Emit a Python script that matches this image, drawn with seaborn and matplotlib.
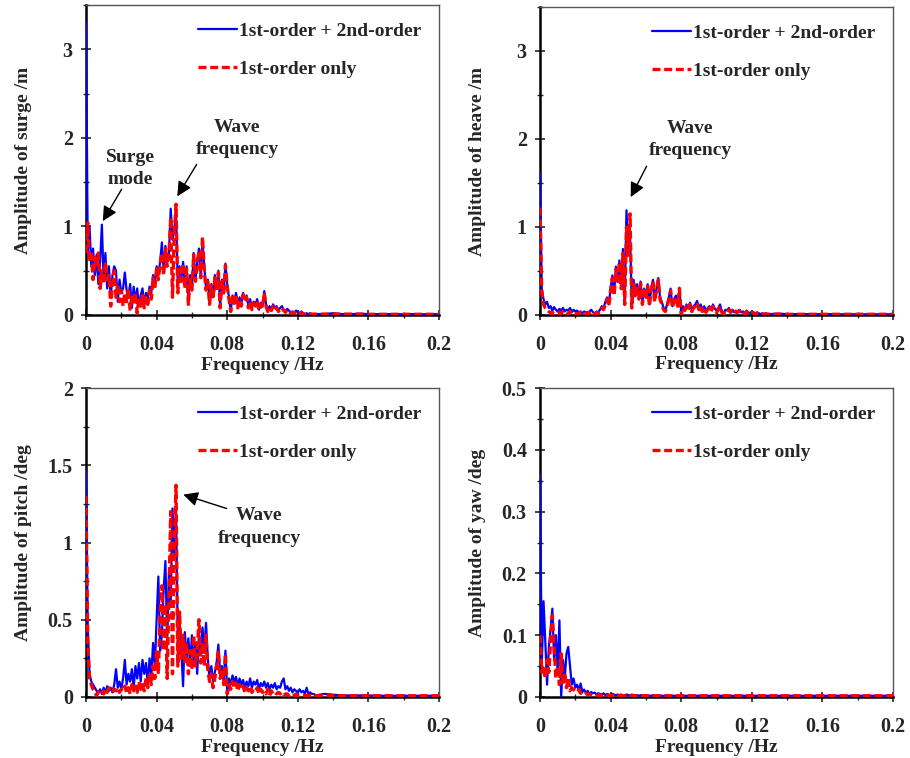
import numpy as np
import pandas as pd
import matplotlib
matplotlib.use("Agg")
import matplotlib.pyplot as plt
import seaborn as sns
from matplotlib.ticker import MultipleLocator

# ---------------- data ----------------
freq_main = [round(i * 0.001, 3) for i in range(130)]
freq_tail = [0.130, 0.135, 0.140, 0.145, 0.150, 0.155, 0.160, 0.165, 0.170,
             0.175, 0.180, 0.185, 0.190, 0.195, 0.200]
freq = freq_main + freq_tail

surge_both = [
    3.30, 0.72, 1.00, 0.55, 0.75, 0.45, 0.68, 0.35, 0.60, 1.02,
    0.40, 0.70, 0.30, 0.55, 0.20, 0.45, 0.55, 0.50, 0.15, 0.40,
    0.25, 0.30, 0.48, 0.28, 0.20, 0.35, 0.08, 0.32, 0.15, 0.30,
    0.10, 0.22, 0.30, 0.12, 0.25, 0.18, 0.32, 0.25, 0.45, 0.35,
    0.55, 0.45, 0.60, 0.82, 0.50, 0.78, 0.60, 0.70, 1.20, 0.85,
    0.95, 1.22, 0.30, 0.55, 0.40, 0.60, 0.35, 0.55, 0.15, 0.45,
    0.30, 0.70, 0.40, 0.60, 0.75, 0.45, 0.85, 0.55, 0.30, 0.40,
    0.15, 0.35, 0.20, 0.45, 0.30, 0.50, 0.10, 0.40, 0.25, 0.58,
    0.35, 0.20, 0.05, 0.22, 0.15, 0.25, 0.10, 0.20, 0.12, 0.25,
    0.18, 0.22, 0.10, 0.18, 0.08, 0.15, 0.12, 0.18, 0.06, 0.14,
    0.10, 0.27, 0.12, 0.05, 0.10, 0.06, 0.12, 0.08, 0.10, 0.05,
    0.08, 0.10, 0.06, 0.04, 0.07, 0.05, 0.03, 0.04, 0.02, 0.05,
    0.03, 0.02, 0.04, 0.02, 0.01, 0.02, 0.01, 0.02, 0.01, 0.01,
    0.01, 0.01, 0.02, 0.01, 0.01, 0.015, 0.01, 0.01, 0.01, 0.01, 0.008, 0.01, 0.008, 0.01, 0.008]
surge_first = [
    0.70, 1.04, 0.60, 0.72, 0.40, 0.65, 0.55, 0.70, 0.30, 0.50,
    0.35, 0.60, 0.40, 0.45, 0.10, 0.35, 0.50, 0.20, 0.35, 0.15,
    0.28, 0.10, 0.25, 0.15, 0.30, 0.05, 0.22, 0.12, 0.25, 0.02,
    0.20, 0.10, 0.22, 0.08, 0.20, 0.12, 0.28, 0.18, 0.42, 0.30,
    0.52, 0.40, 0.58, 0.70, 0.45, 0.75, 0.55, 0.68, 1.10, 0.20,
    0.90, 1.25, 0.25, 0.52, 0.38, 0.58, 0.30, 0.52, 0.12, 0.42,
    0.28, 0.68, 0.38, 0.58, 0.72, 0.42, 0.88, 0.50, 0.28, 0.38,
    0.12, 0.33, 0.18, 0.42, 0.28, 0.48, 0.08, 0.38, 0.22, 0.56,
    0.32, 0.18, 0.04, 0.20, 0.13, 0.23, 0.08, 0.18, 0.10, 0.23,
    0.16, 0.20, 0.08, 0.16, 0.06, 0.13, 0.10, 0.16, 0.05, 0.12,
    0.08, 0.25, 0.10, 0.04, 0.08, 0.05, 0.10, 0.06, 0.08, 0.04,
    0.06, 0.08, 0.05, 0.03, 0.06, 0.04, 0.02, 0.03, 0.02, 0.04,
    0.02, 0.02, 0.03, 0.01, 0.01, 0.02, 0.01, 0.01, 0.01, 0.01,
    0.01, 0.01, 0.01, 0.01, 0.01, 0.01, 0.008, 0.008, 0.008, 0.008, 0.008, 0.008, 0.008, 0.008, 0.008]

heave_both = [
    1.62, 0.30, 0.18, 0.12, 0.15, 0.08, 0.10, 0.05, 0.09, 0.06,
    0.04, 0.07, 0.05, 0.08, 0.04, 0.06, 0.05, 0.08, 0.03, 0.06,
    0.04, 0.05, 0.03, 0.04, 0.02, 0.04, 0.03, 0.02, 0.04, 0.06,
    0.03, 0.02, 0.04, 0.03, 0.06, 0.10, 0.08, 0.15, 0.20, 0.12,
    0.30, 0.45, 0.25, 0.55, 0.40, 0.62, 0.35, 0.75, 0.15, 1.19,
    0.70, 0.95, 0.10, 0.40, 0.25, 0.35, 0.20, 0.38, 0.15, 0.30,
    0.22, 0.35, 0.12, 0.30, 0.40, 0.18, 0.30, 0.42, 0.20, 0.15,
    0.08, 0.05, 0.12, 0.20, 0.30, 0.10, 0.18, 0.22, 0.12, 0.31,
    0.02, 0.10, 0.06, 0.12, 0.08, 0.14, 0.05, 0.10, 0.12, 0.16,
    0.08, 0.12, 0.06, 0.10, 0.05, 0.08, 0.10, 0.06, 0.12, 0.07,
    0.05, 0.08, 0.12, 0.04, 0.02, 0.06, 0.05, 0.08, 0.04, 0.06,
    0.03, 0.05, 0.04, 0.06, 0.03, 0.04, 0.02, 0.05, 0.03, 0.02,
    0.04, 0.03, 0.02, 0.03, 0.02, 0.01, 0.02, 0.01, 0.02, 0.01,
    0.01, 0.015, 0.01, 0.01, 0.01, 0.01, 0.008, 0.01, 0.008, 0.008, 0.008, 0.008, 0.008, 0.008, 0.008]
heave_first = [
    1.22, 0.25, 0.12, 0.08, 0.06, 0.04, 0.02, 0.03, 0.01, 0.02,
    0.01, 0.03, 0.02, 0.04, 0.02, 0.03, 0.01, 0.04, 0.02, 0.03,
    0.01, 0.02, 0.01, 0.03, 0.01, 0.02, 0.01, 0.03, 0.02, 0.04,
    0.02, 0.01, 0.03, 0.02, 0.05, 0.08, 0.06, 0.12, 0.18, 0.10,
    0.28, 0.42, 0.22, 0.52, 0.38, 0.60, 0.30, 0.70, 0.12, 1.00,
    0.65, 1.15, 0.08, 0.38, 0.22, 0.33, 0.18, 0.36, 0.12, 0.28,
    0.20, 0.33, 0.10, 0.28, 0.38, 0.15, 0.28, 0.40, 0.18, 0.12,
    0.06, 0.04, 0.10, 0.18, 0.28, 0.08, 0.16, 0.20, 0.10, 0.30,
    0.00, 0.08, 0.05, 0.10, 0.06, 0.12, 0.04, 0.08, 0.10, 0.14,
    0.06, 0.10, 0.04, 0.08, 0.03, 0.06, 0.08, 0.04, 0.10, 0.05,
    0.03, 0.06, 0.10, 0.03, 0.01, 0.05, 0.04, 0.06, 0.03, 0.05,
    0.02, 0.04, 0.03, 0.05, 0.02, 0.03, 0.01, 0.04, 0.02, 0.01,
    0.03, 0.02, 0.01, 0.02, 0.01, 0.01, 0.01, 0.01, 0.01, 0.01,
    0.01, 0.01, 0.008, 0.008, 0.008, 0.008, 0.008, 0.008, 0.008, 0.008, 0.008, 0.008, 0.008, 0.008, 0.008]

pitch_both = [
    1.46, 0.45, 0.15, 0.10, 0.08, 0.06, 0.04, 0.03, 0.05, 0.02,
    0.06, 0.03, 0.07, 0.04, 0.06, 0.03, 0.08, 0.18, 0.06, 0.10,
    0.05, 0.12, 0.24, 0.08, 0.15, 0.10, 0.18, 0.06, 0.20, 0.12,
    0.22, 0.10, 0.24, 0.15, 0.22, 0.08, 0.25, 0.14, 0.35, 0.20,
    0.50, 0.78, 0.30, 0.40, 0.70, 0.88, 0.35, 0.80, 0.60, 1.22,
    0.90, 1.25, 0.35, 0.50, 0.30, 0.07, 0.42, 0.25, 0.38, 0.20,
    0.40, 0.22, 0.35, 0.15, 0.42, 0.28, 0.45, 0.30, 0.48, 0.25,
    0.12, 0.20, 0.10, 0.16, 0.22, 0.34, 0.15, 0.20, 0.10, 0.30,
    0.03, 0.12, 0.08, 0.14, 0.10, 0.13, 0.07, 0.12, 0.08, 0.11,
    0.06, 0.10, 0.07, 0.12, 0.06, 0.10, 0.08, 0.11, 0.05, 0.09,
    0.07, 0.10, 0.06, 0.09, 0.05, 0.08, 0.06, 0.09, 0.05, 0.07,
    0.06, 0.10, 0.12, 0.05, 0.07, 0.04, 0.06, 0.03, 0.05, 0.04,
    0.03, 0.05, 0.03, 0.04, 0.02, 0.06, 0.02, 0.03, 0.02, 0.02,
    0.01, 0.02, 0.015, 0.01, 0.01, 0.01, 0.01, 0.008, 0.008, 0.008, 0.008, 0.008, 0.008, 0.008, 0.008]
pitch_first = [
    1.30, 0.35, 0.12, 0.08, 0.05, 0.03, 0.01, 0.03, 0.05, 0.04,
    0.02, 0.05, 0.03, 0.06, 0.04, 0.03, 0.05, 0.04, 0.06, 0.03,
    0.05, 0.04, 0.07, 0.03, 0.06, 0.02, 0.08, 0.04, 0.07, 0.03,
    0.10, 0.05, 0.08, 0.04, 0.12, 0.06, 0.15, 0.08, 0.20, 0.12,
    0.30, 0.15, 0.55, 0.72, 0.30, 0.60, 0.12, 0.65, 1.20, 0.15,
    0.95, 1.37, 0.20, 0.55, 0.25, 0.40, 0.22, 0.35, 0.15, 0.30,
    0.18, 0.40, 0.20, 0.30, 0.50, 0.22, 0.35, 0.20, 0.40, 0.18,
    0.10, 0.15, 0.06, 0.12, 0.20, 0.30, 0.12, 0.18, 0.08, 0.28,
    0.02, 0.08, 0.05, 0.10, 0.06, 0.09, 0.04, 0.08, 0.05, 0.07,
    0.03, 0.06, 0.04, 0.07, 0.03, 0.05, 0.04, 0.06, 0.02, 0.05,
    0.03, 0.04, 0.02, 0.05, 0.01, 0.04, 0.02, 0.03, 0.02, 0.03,
    0.02, 0.03, 0.01, 0.02, 0.02, 0.01, 0.02, 0.01, 0.01, 0.02,
    0.01, 0.01, 0.01, 0.01, 0.01, 0.01, 0.01, 0.01, 0.01, 0.01,
    0.008, 0.008, 0.008, 0.008, 0.008, 0.008, 0.008, 0.008, 0.008, 0.008, 0.008, 0.008, 0.008, 0.008, 0.008]

yaw_both = [
    0.36, 0.05, 0.155, 0.09, 0.02, 0.08, 0.11, 0.143, 0.06, 0.10,
    0.04, 0.124, 0.00, 0.06, 0.03, 0.07, 0.081, 0.05, 0.02, 0.03,
    0.015, 0.02, 0.01, 0.022, 0.008, 0.012, 0.006, 0.010, 0.005, 0.008,
    0.006, 0.007, 0.004, 0.006, 0.005, 0.004, 0.006, 0.003, 0.005, 0.004,
    0.003, 0.005, 0.004, 0.003, 0.004, 0.003, 0.004, 0.002, 0.003, 0.004,
    0.003, 0.002, 0.004, 0.003, 0.002, 0.003, 0.002, 0.003, 0.002, 0.003,
    0.002, 0.003, 0.002, 0.002, 0.003, 0.002, 0.002, 0.003, 0.002, 0.002,
    0.002, 0.002, 0.003, 0.002, 0.002, 0.002, 0.002, 0.002, 0.002, 0.002,
    0.002, 0.002, 0.002, 0.002, 0.002, 0.002, 0.002, 0.002, 0.002, 0.002,
    0.002, 0.002, 0.002, 0.002, 0.002, 0.002, 0.002, 0.002, 0.002, 0.002,
    0.002, 0.002, 0.002, 0.002, 0.002, 0.002, 0.002, 0.002, 0.002, 0.002,
    0.002, 0.002, 0.002, 0.002, 0.002, 0.002, 0.002, 0.002, 0.002, 0.002,
    0.002, 0.002, 0.002, 0.002, 0.002, 0.002, 0.002, 0.002, 0.002, 0.002,
    0.002, 0.002, 0.002, 0.002, 0.002, 0.002, 0.002, 0.002, 0.002, 0.002, 0.002, 0.002, 0.002, 0.002, 0.002]
yaw_first = [
    0.10, 0.04, 0.05, 0.03, 0.06, 0.04, 0.09, 0.132, 0.08, 0.03,
    0.05, 0.02, 0.07, 0.02, 0.04, 0.015, 0.03, 0.010, 0.015, 0.012,
    0.010, 0.008, 0.012, 0.006, 0.008, 0.005, 0.006, 0.004, 0.005, 0.004,
    0.003, 0.004, 0.003, 0.003, 0.004, 0.002, 0.003, 0.002, 0.003, 0.002,
    0.002, 0.003, 0.002, 0.002, 0.002, 0.002, 0.002, 0.002, 0.002, 0.002,
    0.002, 0.002, 0.002, 0.002, 0.002, 0.002, 0.002, 0.002, 0.002, 0.002,
    0.002, 0.002, 0.002, 0.002, 0.002, 0.002, 0.002, 0.002, 0.002, 0.002,
    0.002, 0.002, 0.002, 0.002, 0.002, 0.002, 0.002, 0.002, 0.002, 0.002,
    0.002, 0.002, 0.002, 0.002, 0.002, 0.002, 0.002, 0.002, 0.002, 0.002,
    0.002, 0.002, 0.002, 0.002, 0.002, 0.002, 0.002, 0.002, 0.002, 0.002,
    0.002, 0.002, 0.002, 0.002, 0.002, 0.002, 0.002, 0.002, 0.002, 0.002,
    0.002, 0.002, 0.002, 0.002, 0.002, 0.002, 0.002, 0.002, 0.002, 0.002,
    0.002, 0.002, 0.002, 0.002, 0.002, 0.002, 0.002, 0.002, 0.002, 0.002,
    0.002, 0.002, 0.002, 0.002, 0.002, 0.002, 0.002, 0.002, 0.002, 0.002, 0.002, 0.002, 0.002, 0.002, 0.002]

labels = ["1st-order + 2nd-order", "1st-order only"]
ylabels = ["Amplitude of surge /m", "Amplitude of heave /m",
           "Amplitude of pitch /deg", "Amplitude of yaw /deg"]
xlabel = "Frequency /Hz"
xticks = [0, 0.04, 0.08, 0.12, 0.16, 0.2]
xticklabels = ["0", "0.04", "0.08", "0.12", "0.16", "0.2"]

# ---------------- style ----------------
sns.set_style("ticks")
plt.rcParams["font.family"] = ["Liberation Serif", "DejaVu Serif"]
plt.rcParams["font.weight"] = "bold"
plt.rcParams["axes.labelweight"] = "bold"
FS_TICK = 14.5
FS_LAB = 14
FS_LEG = 14

fig = plt.figure(figsize=(9.10, 7.58), dpi=100)
W, H = 910, 758
def box(l, t, r, b):
    return [l / W, 1 - b / H, (r - l) / W, (b - t) / H]

ax_pos = [box(86, 5, 439, 315), box(540, 7, 893, 315),
          box(86, 388, 439, 697), box(540, 388, 893, 697)]
series = [(surge_both, surge_first), (heave_both, heave_first),
          (pitch_both, pitch_first), (yaw_both, yaw_first)]
ylims = [(0, 3.5), (0, 3.5), (0, 2.0), (0, 0.5)]
ymaj = [1, 1, 0.5, 0.1]
ymin = [0.5, 0.5, 0.25, 0.05]

axes = []
for i in range(4):
    ax = fig.add_axes(ax_pos[i])
    axes.append(ax)
    both, first = series[i]
    df = pd.DataFrame({"f": freq, "both": both, "first": first})
    sns.lineplot(data=df, x="f", y="both", ax=ax, color="#0000FF", lw=1.6,
                 label=labels[0], sort=False, estimator=None, zorder=3)
    sns.lineplot(data=df, x="f", y="first", ax=ax, color="#FF0000", lw=2.4,
                 label=labels[1], sort=False, estimator=None, zorder=4,
                 linestyle=(0, (2.4, 1.1)))
    ax.set_xlim(0, 0.2)
    ax.set_xticks(xticks)
    ax.set_xticklabels(xticklabels)
    ax.xaxis.set_minor_locator(MultipleLocator(0.02))
    ax.yaxis.set_major_locator(MultipleLocator(ymaj[i]))
    ax.yaxis.set_minor_locator(MultipleLocator(ymin[i]))
    ax.set_ylim(*ylims[i])
    ax.set_yticks(ax.get_yticks())
    ax.set_yticklabels([f"{v:g}" for v in ax.get_yticks()])
    ax.set_ylim(*ylims[i])
    ax.tick_params(axis="both", which="major", direction="inout", length=7,
                   width=1.2, labelsize=FS_TICK)
    ax.tick_params(axis="x", which="major", pad=11)
    ax.tick_params(axis="y", which="major", pad=6)
    ax.tick_params(axis="both", which="minor", direction="inout", length=4,
                   width=1.0)
    for s in ["left", "bottom"]:
        ax.spines[s].set_linewidth(1.8)
        ax.spines[s].set_color("black")
    for s in ["top", "right"]:
        ax.spines[s].set_linewidth(1.0)
        ax.spines[s].set_color("#555555")
    ax.set_xlabel(xlabel, fontsize=FS_LAB, fontweight="bold")
    ax.set_ylabel(ylabels[i], fontsize=FS_LAB, fontweight="bold")
    ax.xaxis.set_label_coords(0.5, -0.162)
    ax.xaxis.label.set_va("center")
    ax.yaxis.set_label_coords(-0.178, 0.5)
    ax.yaxis.label.set_va("center")
    for lab in ax.get_xticklabels() + ax.get_yticklabels():
        lab.set_fontweight("bold")
    ax.legend(loc="upper right", frameon=False,
              handlelength=2.0, handletextpad=0.1, labelspacing=1.05,
              borderaxespad=0.5, prop={"weight": "bold", "size": FS_LEG})

ann_kw = dict(fontsize=FS_LAB, fontweight="bold", ha="center", va="center",
              linespacing=1.4)
arrow = dict(arrowstyle="-|>", color="black", lw=1.0, mutation_scale=22,
             shrinkA=0, shrinkB=0)

axes[0].text(0.0249, 1.65, "Surge\nmode", **ann_kw)
axes[0].annotate("", xy=(0.0095, 1.06), xytext=(0.0202, 1.42), arrowprops=arrow)
axes[0].text(0.0856, 1.99, "Wave\nfrequency", **ann_kw)
axes[0].annotate("", xy=(0.0517, 1.34), xytext=(0.0627, 1.70), arrowprops=arrow)

axes[1].text(0.085, 1.99, "Wave\nfrequency", **ann_kw)
axes[1].annotate("", xy=(0.0514, 1.34), xytext=(0.0604, 1.69), arrowprops=arrow)

axes[2].text(0.098, 1.10, "Wave\nfrequency", **ann_kw)
axes[2].annotate("", xy=(0.0551, 1.31), xytext=(0.0797, 1.22), arrowprops=arrow)

fig.savefig("out.png", dpi=100)
